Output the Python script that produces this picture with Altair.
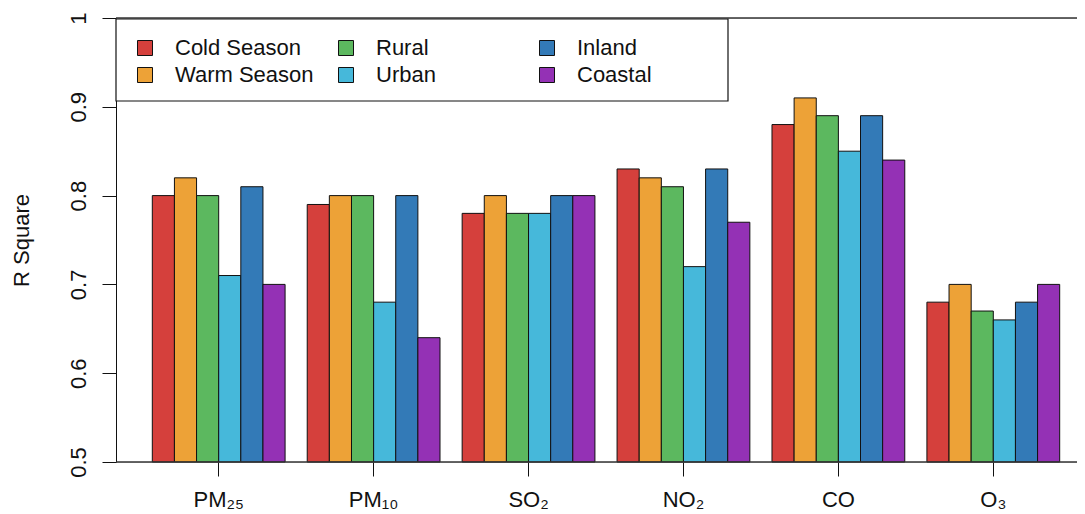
import altair as alt
import pandas as pd

pollutants = ["PM₂₅", "PM₁₀", "SO₂", "NO₂", "CO", "O₃"]
groups = ["Cold Season", "Warm Season", "Rural", "Urban", "Inland", "Coastal"]
group_colors = ["#D5403C", "#EDA237", "#5CB85F", "#46B8DA", "#337AB7", "#9431B5"]

cold = [0.80, 0.79, 0.78, 0.83, 0.88, 0.68]
warm = [0.82, 0.80, 0.80, 0.82, 0.91, 0.70]
rural = [0.80, 0.80, 0.78, 0.81, 0.89, 0.67]
urban = [0.71, 0.68, 0.78, 0.72, 0.85, 0.66]
inland = [0.81, 0.80, 0.80, 0.83, 0.89, 0.68]
coastal = [0.70, 0.64, 0.80, 0.77, 0.84, 0.70]

series = [cold, warm, rural, urban, inland, coastal]
rows = []
for g, vals in zip(groups, series):
    for p, v in zip(pollutants, vals):
        rows.append({"pollutant": p, "group": g, "r2": v})
df = pd.DataFrame(rows)

FONT = "Liberation Sans"
FS = 22
W, H = 961, 444

# legend frame (decoration)
legend_box = alt.Chart(pd.DataFrame({"k": [0]})).mark_rect(
    fill="white", stroke="#111111", strokeWidth=1.2
).encode(
    x=alt.value(0), x2=alt.value(612), y=alt.value(1), y2=alt.value(83)
)

bars = alt.Chart(df).mark_bar(stroke="#111111", strokeWidth=1).encode(
    x=alt.X(
        "pollutant:N",
        sort=pollutants,
        scale=alt.Scale(range=[0, 980], paddingInner=1 / 7, paddingOuter=0.2343),
        axis=alt.Axis(
            title=None, domain=False, ticks=True, tickSize=14, tickColor="#111111",
            labelAngle=0, labelFont=FONT, labelFontSize=FS, labelColor="#111111",
            labelPadding=13, grid=False,
        ),
    ),
    xOffset=alt.XOffset("group:N", sort=groups,
                        scale=alt.Scale(paddingInner=0, paddingOuter=0)),
    y=alt.Y(
        "r2:Q",
        scale=alt.Scale(domain=[0.5, 1.0], zero=False, nice=False),
        axis=alt.Axis(
            title="R Square", values=[0.5, 0.6, 0.7, 0.8, 0.9, 1.0],
            labelExpr="datum.value == 1 ? '1' : format(datum.value, '.1f')",
            grid=False, domainColor="#111111", tickColor="#111111", tickSize=14,
            labelAngle=270, labelAlign="center", labelBaseline="alphabetic",
            labelPadding=17, labelFont=FONT, labelFontSize=FS, labelColor="#111111",
            titleFont=FONT, titleFontSize=FS, titleFontWeight="normal",
            titleColor="#111111", titleAngle=270, titleAlign="center",
            titleBaseline="alphabetic", titleX=-88, titleY=H / 2,
        ),
    ),
    y2=alt.datum(0.5),
    color=alt.Color(
        "group:N",
        scale=alt.Scale(domain=groups, range=group_colors),
        legend=alt.Legend(
            title=None, orient="none", legendX=0, legendY=1, columns=3,
            direction="vertical",
            gridAlign="all", symbolType="square", symbolSize=225,
            symbolStrokeColor="#111111", symbolStrokeWidth=1, symbolOpacity=1,
            labelFont=FONT, labelFontSize=FS, labelColor="#111111",
            labelOffset=19, labelLimit=400, columnPadding=21, rowPadding=5,
            padding=18,
        ),
    ),
)

ref_lines = alt.Chart(pd.DataFrame({"v": [0.5, 1.0]})).mark_rule(
    color="#333333", strokeWidth=1.3
).encode(
    y=alt.Y("v:Q"),
    x=alt.value(0),
    x2=alt.value(W),
)

chart = alt.layer(legend_box, bars, ref_lines).properties(
    width=W, height=H,
    autosize=alt.AutoSizeParams(type="none"),
    padding={"left": 108, "top": 10, "right": 0, "bottom": 50},
).configure_view(stroke=None).configure(background="white")

chart.save("out.html", embed_options={"renderer": "svg", "actions": False})
